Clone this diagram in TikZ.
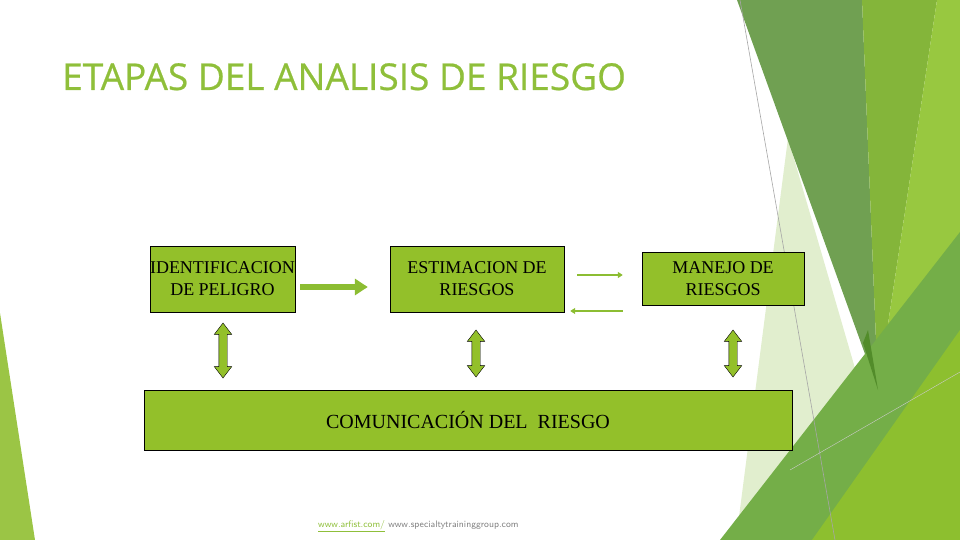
\documentclass[tikz,border=0pt]{standalone}
\usepackage{fontspec}
\setmainfont{Liberation Serif}
\newfontfamily\titlefont[FakeBold=0.6]{Open Sans}
\usetikzlibrary{arrows.meta, shapes.arrows, positioning}

\definecolor{boxgreen}{HTML}{93C02A}
\definecolor{arrgreen}{HTML}{8CBD32}
\definecolor{titlegreen}{HTML}{8FBF3A}

\begin{document}
\begin{tikzpicture}[
  x=1pt, y=-1pt,
  every node/.style = {font=\fontsize{18}{22}\selectfont},
  stepbox/.style = {rectangle, draw=black, fill=boxgreen,
                    align=center, inner sep=0pt},
  linkarrow/.style = {double arrow, draw=black, fill=boxgreen, rotate=90,
                      inner xsep=0pt, inner ysep=4pt,
                      double arrow head extend=4.5pt,
                      double arrow tip angle=75},
  bigarr/.style  = {-{Triangle[length=13pt, width=16pt]}, line width=6pt, arrgreen},
  thinarr/.style = {-{Triangle[length=5pt, width=6pt]}, line width=2pt, arrgreen},
]
\useasboundingbox (0,0) rectangle (960,540);

%% ══ background decoration ═══════════════════════════════════════════════
\begin{scope}
  \clip (0,0) rectangle (960,540);
  \fill[color={rgb,255:red,225;green,238;blue,206}] (788,138) -- (905,540) -- (736,540) -- cycle;
  \fill[color={rgb,255:red,112;green,160;blue,82}] (737,0) -- (862,0) -- (878,390) -- cycle;
  \fill[color={rgb,255:red,132;green,181;blue,58}] (862,0) -- (937,0) -- (878,390) -- cycle;
  \fill[color={rgb,255:red,152;green,200;blue,64}] (937,0) -- (960,0) -- (960,540) -- (850,540) -- (878,390) -- cycle;
  \fill[color={rgb,255:red,116;green,174;blue,72}] (720,540) -- (960,232) -- (960,540) -- cycle;
  \fill[color={rgb,255:red,82;green,140;blue,42}] (863,343) -- (878,390) -- (868,330) -- cycle;
  \fill[color={rgb,255:red,141;green,191;blue,47}] (812,540) -- (960,330) -- (960,540) -- cycle;
  \draw[gray!70, line width=0.6pt] (740,0) -- (835,540);
  \draw[gray!40, line width=0.4pt] (790,470) -- (960,372);
  \fill[color={rgb,255:red,155;green,197;blue,69}] (0,313) -- (35,540) -- (0,540) -- cycle;
\end{scope}

%% ══ title ═══════════════════════════════════════════════════════════════
\node[anchor=base west, inner sep=0pt, text=titlegreen,
      font=\titlefont\fontsize{37}{40}\selectfont] (title) at (62,90)
  {ETAPAS DEL ANALISIS DE RIESGO};

%% ══ top row ═════════════════════════════════════════════════════════════
\node[stepbox, minimum width=145pt, minimum height=66pt] (ident) at (222.5,279)
  {IDENTIFICACION\\DE PELIGRO};
\node[stepbox, minimum width=174pt, minimum height=66pt] (estim) at (477,279)
  {ESTIMACION DE\\RIESGOS};
\node[stepbox, minimum width=162pt, minimum height=53pt] (manejo) at (723,278.5)
  {MANEJO DE\\RIESGOS};

\draw[bigarr, shorten <=5pt, shorten >=22pt]
  ([yshift=-8pt]ident.east) -- ([yshift=-8pt]estim.west);
\draw[thinarr, shorten <=13pt, shorten >=19pt]
  ([yshift=4pt]estim.east) -- ([yshift=3.5pt]manejo.west);
\draw[thinarr, shorten <=19pt, shorten >=6pt]
  ([yshift=-32.5pt]manejo.west) -- ([yshift=-32pt]estim.east);

%% ══ bottom bar ══════════════════════════════════════════════════════════
\node[stepbox, minimum width=648pt, minimum height=60pt,
      font=\fontsize{20}{22}\selectfont] (comm) at (468,420)
  {COMUNICACIÓN DEL\ \ RIESGO};

%% ── links between rows ──────────────────────────────────────────────────
\node[linkarrow, minimum height=55pt] (link1) at (223,350.5) {};
\node[linkarrow, minimum height=47pt] (link2) at (476,353.5) {};
\node[linkarrow, minimum height=47pt] (link3) at (733,353.5) {};

%% ══ footer ══════════════════════════════════════════════════════════════
\node[anchor=base west, inner sep=0pt, font=\sffamily\fontsize{9.4}{10}\selectfont]
  (source) at (318,527)
  {\textcolor{titlegreen}{\underline{www.arfist.com/}} \textcolor{gray}{www.specialtytraininggroup.com}};

\end{tikzpicture}
\end{document}
